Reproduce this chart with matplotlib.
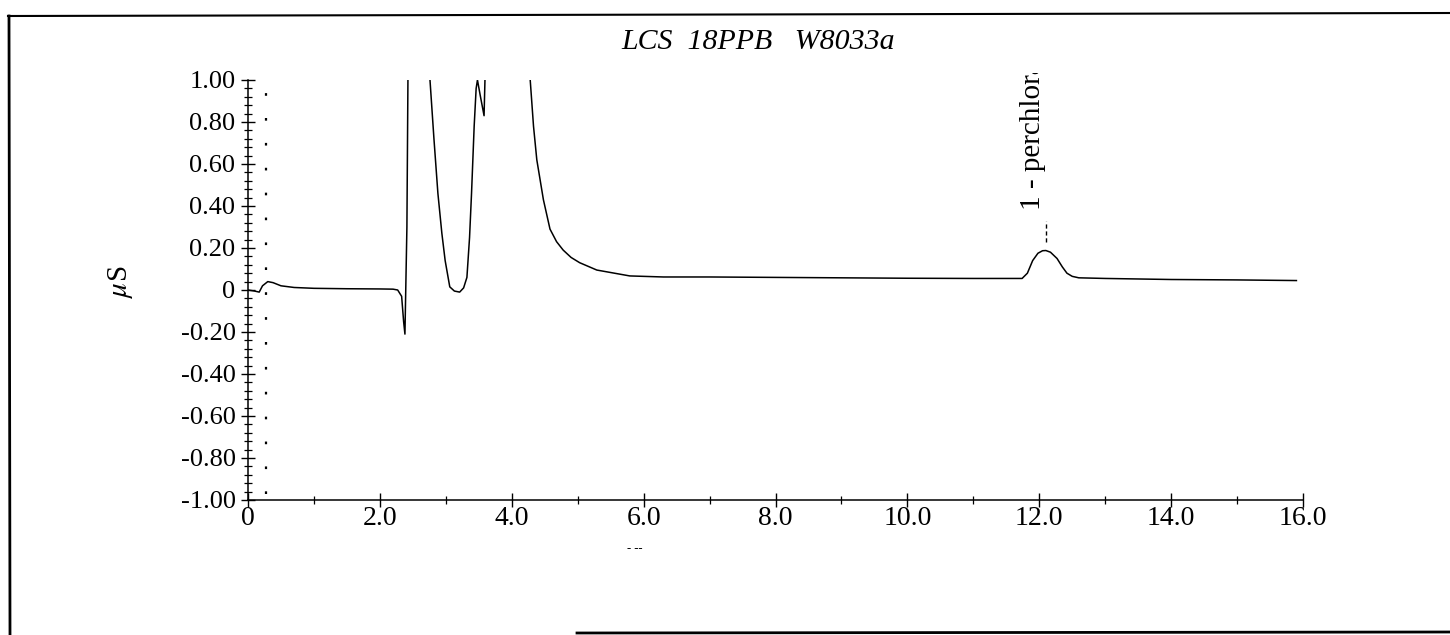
import matplotlib
matplotlib.use("Agg")
import matplotlib.pyplot as plt
from matplotlib.lines import Line2D
from matplotlib.transforms import Bbox, TransformedBbox
from matplotlib.ticker import MultipleLocator, FixedLocator, FixedFormatter

# chromatogram (minutes, uS); values > 1 run off the top
time_min = [0.00, 0.10, 0.17, 0.22, 0.30, 0.38, 0.50, 0.70, 1.00, 1.50, 2.00,
            2.20, 2.27, 2.33, 2.36, 2.38, 2.41, 2.43, 2.55, 2.70,
            2.76, 2.82, 2.88, 2.94, 2.99, 3.06, 3.13, 3.21, 3.27, 3.32, 3.36,
            3.39, 3.43, 3.46, 3.48, 3.52, 3.58, 3.61, 3.90, 4.28,
            4.33, 4.38, 4.48, 4.58, 4.68, 4.78, 4.90, 5.03, 5.29, 5.79, 6.30,
            7.00, 8.00, 9.00, 10.00, 11.00, 11.74, 11.82, 11.90, 11.98, 12.05,
            12.10, 12.17, 12.27, 12.35, 12.42, 12.50, 12.60, 13.00, 14.00,
            15.00, 15.90]
signal_us = [0.000, -0.005, -0.010, 0.020, 0.040, 0.035, 0.020, 0.012, 0.008,
             0.006, 0.005, 0.004, 0.000, -0.030, -0.150, -0.210, 0.300, 1.200,
             1.600, 1.600,
             1.000, 0.720, 0.460, 0.270, 0.140, 0.015, -0.005, -0.010, 0.010,
             0.060, 0.250, 0.460, 0.780, 0.960, 1.000, 0.930, 0.830,
             1.200, 1.800, 1.000,
             0.780, 0.620, 0.430, 0.290, 0.230, 0.190, 0.155, 0.130, 0.095,
             0.067, 0.062, 0.062, 0.060, 0.058, 0.056, 0.055, 0.055, 0.080,
             0.140, 0.175, 0.187, 0.188, 0.180, 0.150, 0.110, 0.080, 0.065,
             0.058, 0.055, 0.050, 0.048, 0.045]

peak_time = 12.1
peak_label = "1 - perchlorate"
marker_time = 0.27

y_ticks = [1.0, 0.8, 0.6, 0.4, 0.2, 0.0, -0.2, -0.4, -0.6, -0.8, -1.0]
y_labels = ["1.00", "0.80", "0.60", "0.40", "0.20", "0", "-0.20", "-0.40",
            "-0.60", "-0.80", "-1.00"]
x_ticks = [0, 2, 4, 6, 8, 10, 12, 14, 16]
x_labels = ["0", "2.0", "4.0", "6.0", "8.0", "10.0", "12.0", "14.0", "16.0"]

plt.rcParams["font.family"] = ["Liberation Serif", "DejaVu Serif"]
plt.rcParams["mathtext.fontset"] = "stix"

W, H = 1450, 635
fig = plt.figure(figsize=(W / 100, H / 100), dpi=100)
ax = fig.add_axes([248 / W, 1 - 500 / H, 1055 / W, 420 / H])

ax.plot(time_min, signal_us, color="black", lw=1.1)
ax.plot([marker_time, marker_time], [-0.97, 1.0], color="black", lw=1.6,
        dashes=(1.2, 10))

# peak annotation, cut off at the top like on the print-out
ax.plot([peak_time, peak_time], [0.23, 0.33], color="black", lw=1.0,
        dashes=(3, 2))
lbl = ax.text(peak_time - 0.2, 0.38, peak_label, rotation=90, ha="center",
              va="bottom", fontsize=21)
lbl.set_clip_box(TransformedBbox(Bbox([[0, 0], [1, 1 - 73 / H]]),
                                 fig.transFigure))
lbl.set_clip_on(True)

ax.set_xlim(0, 16)
ax.set_ylim(-1, 1)
for s in ("top", "right"):
    ax.spines[s].set_visible(False)
for s in ("left", "bottom"):
    ax.spines[s].set_linewidth(1.1)

ax.yaxis.set_major_locator(FixedLocator(y_ticks))
ax.yaxis.set_major_formatter(FixedFormatter(y_labels))
ax.yaxis.set_minor_locator(MultipleLocator(0.04))
ax.xaxis.set_major_locator(FixedLocator(x_ticks))
ax.xaxis.set_major_formatter(FixedFormatter(x_labels))
ax.xaxis.set_minor_locator(MultipleLocator(1.0))
ax.tick_params(which="major", direction="inout", length=10, width=1.0,
               labelsize=19)
ax.tick_params(axis="x", which="major", labelsize=20)
ax.tick_params(axis="y", which="major", pad=4)
ax.tick_params(axis="x", which="major", pad=-1)
ax.tick_params(which="minor", direction="inout", length=6, width=0.9)

ax.set_ylabel(r"$\mu$S", fontsize=21)
ax.yaxis.set_label_coords(-0.107, 0.52)

fig.text(758 / W, 1 - 42 / H, "LCS  18PPB   W8033a", ha="center",
         va="center", fontsize=21.5, style="italic")
fig.text(635 / W, 1 - 549 / H, "- --", ha="center", va="center",
         fontsize=9)

# page frame of the scan
fig.add_artist(Line2D([8 / W, 1.0], [1 - 16 / H, 1 - 13 / H],
                      transform=fig.transFigure, color="black", lw=1.5))
fig.add_artist(Line2D([9 / W, 10 / W], [1 - 16 / H, 0.0],
                      transform=fig.transFigure, color="black", lw=2.0))
fig.add_artist(Line2D([577 / W, 1.0], [1 - 633 / H, 1 - 632 / H],
                      transform=fig.transFigure, color="black", lw=2.0))

fig.savefig("out.png", dpi=100)
